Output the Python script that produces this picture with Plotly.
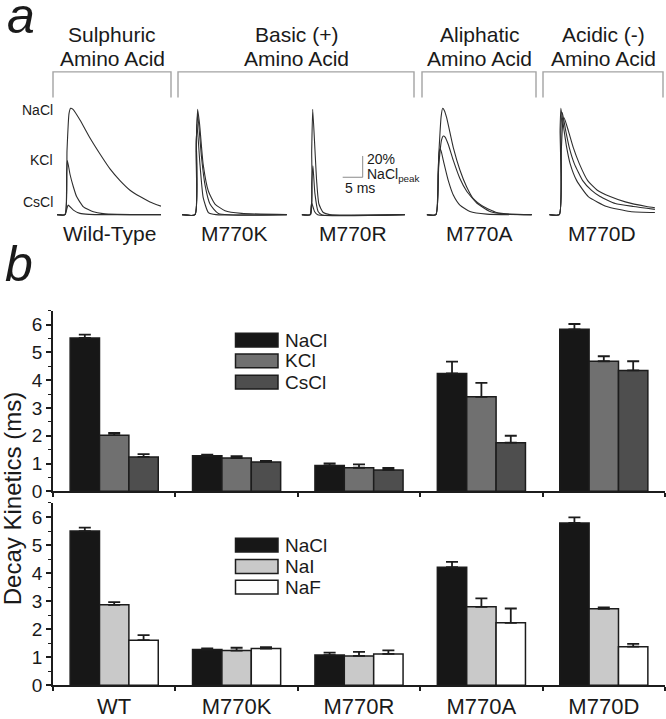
import plotly.graph_objects as go

# ---------------- data ----------------
MUTANTS = ["WT", "M770K", "M770R", "M770A", "M770D"]
TRACE_LABELS = ["Wild-Type", "M770K", "M770R", "M770A", "M770D"]
GROUP_LINE1 = ["Sulphuric", "Basic (+)", "Aliphatic", "Acidic (-)"]
GROUP_LINE2 = ["Amino Acid", "Amino Acid", "Amino Acid", "Amino Acid"]

# panel b, top: cation series (decay kinetics, ms) and upward SEM
NACL = [5.52, 1.28, 0.93, 4.24, 5.83]
NACL_ERR = [0.12, 0.04, 0.08, 0.43, 0.19]
KCL = [2.02, 1.20, 0.85, 3.40, 4.68]
KCL_ERR = [0.08, 0.07, 0.12, 0.50, 0.18]
CSCL = [1.24, 1.06, 0.77, 1.75, 4.35]
CSCL_ERR = [0.10, 0.04, 0.07, 0.25, 0.33]

# panel b, bottom: anion series
NACL2 = [5.50, 1.28, 1.08, 4.21, 5.79]
NACL2_ERR = [0.12, 0.04, 0.09, 0.19, 0.20]
NAI = [2.87, 1.24, 1.05, 2.80, 2.73]
NAI_ERR = [0.10, 0.10, 0.14, 0.30, 0.05]
NAF = [1.61, 1.31, 1.12, 2.23, 1.38]
NAF_ERR = [0.18, 0.05, 0.13, 0.51, 0.10]

# panel a: current traces, time (ms) and amplitude (% of NaCl peak)
WT_T_NACL = [0, 2.0, 2.5, 3.0, 3.4, 4.0, 5.75, 8.25, 10.75, 13.25, 15.75, 18.25, 20.75, 23.25, 26.0]
WT_A_NACL = [0, 0, 60, 95, 100, 99, 89, 72, 57, 43, 32, 23, 17, 12, 8]
WT_T_KCL = [0, 2.0, 2.4, 2.6, 3.25, 4.1, 4.9, 6.6, 9.1, 11.5, 15, 26]
WT_A_KCL = [0, 0, 40, 51, 38, 26, 17, 7.4, 2.8, 1, 0.3, 0]
WT_T_CSCL = [0, 2.0, 2.5, 2.8, 4.1, 5.75, 8, 26]
WT_A_CSCL = [0, 0, 6, 9, 4.3, 1.2, 0.3, 0]

K_T_NACL = [0, 3.25, 3.6, 3.9, 4.4, 5.3, 6.6, 8.25, 10.75, 14.9, 26.2]
K_A_NACL = [0, 0, 70, 99, 85, 47, 22, 10, 3.7, 1.2, 0]
K_T_KCL = [0, 3.25, 3.6, 3.9, 4.9, 5.75, 7, 9.1, 26.2]
K_A_KCL = [0, 0, 70, 95, 53, 28, 10, 1.2, 0]
K_T_CSCL = [0, 3.25, 3.5, 3.75, 4.5, 5.3, 6.6, 8.5, 26.2]
K_A_CSCL = [0, 0, 60, 85, 47, 16, 2, 0, 0]

R_T_NACL = [0, 2.2, 2.5, 2.75, 3.3, 3.75, 4.3, 5.4, 7, 25.8]
R_A_NACL = [0, 0, 60, 99, 62, 31, 10, 2, 0, 0]
R_T_KCL = [0, 2.2, 2.5, 2.8, 3.3, 4.1, 5, 25.8]
R_A_KCL = [0, 0, 30, 46, 20, 3, 0, 0]
R_T_CSCL = [0, 2.1, 2.3, 2.5, 3.2, 4, 25.8]
R_A_CSCL = [0, 0, 7, 11, 3, 0, 0]

A_T_NACL = [0, 2.3, 3.0, 3.6, 4.0, 4.4, 5.0, 6.65, 8.3, 10, 11.65, 14.15, 17.5, 21, 26.25]
A_A_NACL = [0, 0, 55, 92, 100, 98, 91, 63, 42, 26, 15, 7.7, 2, 0.5, 0]
A_T_KCL = [0, 2.3, 3.0, 3.7, 4.15, 4.6, 5.4, 6.65, 8.3, 10, 12.5, 15.8, 20, 26.25]
A_A_KCL = [0, 0, 45, 70, 74, 73, 66, 51, 34, 22, 11, 3, 0.5, 0]
A_T_CSCL = [0, 2.3, 2.8, 3.1, 3.3, 3.6, 4.15, 5.4, 6.65, 8.3, 10.8, 15, 26.25]
A_A_CSCL = [0, 0, 38, 58, 62, 60, 51, 32, 18.5, 9, 3, 0.5, 0]

D_T_NACL = [0, 2.5, 3.0, 3.4, 3.7, 4.75, 6, 7.5, 9.6, 12, 15.2, 19, 24.3, 26.4]
D_A_NACL = [0, 0, 60, 88, 91, 79, 63, 48, 32, 23, 17, 12, 7.7, 6.5]
D_T_KCL = [0, 2.5, 2.9, 3.25, 4.1, 5, 6.25, 8.35, 10.5, 12.7, 16.5, 21, 26.4]
D_A_KCL = [0, 0, 80, 96, 79, 63, 48, 32, 23, 17, 10.5, 7.7, 5]
D_T_CSCL = [0, 2.5, 2.7, 2.9, 3.7, 4.35, 5.2, 6.85, 9.75, 14.35, 20.2, 26.4]
D_A_CSCL = [0, 0, 80, 100, 79, 63, 48, 32, 17, 7.7, 3, 2]

SCALE_MS = 5
SCALE_PCT = 20

# ---------------- layout helpers ----------------
W, H = 666, 719
FONT = "Arial, Liberation Sans, sans-serif"
TXT = "#1a1a1a"


def px(x):
    return x / W


def py(y):
    return 1 - y / H


fig = go.Figure()

# ---------------- panel a ----------------
trace_sets = [
    [(WT_T_NACL, WT_A_NACL), (WT_T_KCL, WT_A_KCL), (WT_T_CSCL, WT_A_CSCL)],
    [(K_T_NACL, K_A_NACL), (K_T_KCL, K_A_KCL), (K_T_CSCL, K_A_CSCL)],
    [(R_T_NACL, R_A_NACL), (R_T_KCL, R_A_KCL), (R_T_CSCL, R_A_CSCL)],
    [(A_T_NACL, A_A_NACL), (A_T_KCL, A_A_KCL), (A_T_CSCL, A_A_CSCL)],
    [(D_T_NACL, D_A_NACL), (D_T_KCL, D_A_KCL), (D_T_CSCL, D_A_CSCL)],
]
# pixel spans of the five trace panels (start, end)
spans = [(57, 161), (182, 287), (301.7, 405), (426.7, 532), (549.3, 655)]
MS_PX = 4.0  # px per ms
base_py, pct_px = 218.0, 1.08

for i, (sets, (x0, x1)) in enumerate(zip(trace_sets, spans)):
    ax = i + 3
    for t, a in sets:
        fig.add_trace(go.Scatter(
            x=t, y=a, mode="lines", xaxis=f"x{ax}", yaxis="y3",
            line=dict(color="#2e2e2e", width=1.1, shape="spline", smoothing=0.5),
            showlegend=False, hoverinfo="skip"))
    fig.layout[f"xaxis{ax}"] = dict(domain=[px(x0), px(x1)], range=[0, (x1 - x0) / MS_PX],
                                     anchor="y3", visible=False, fixedrange=True)
    fig.add_annotation(text=TRACE_LABELS[i], xref=f"x{ax} domain", yref="paper",
                       x=0.5, y=py(237), showarrow=False, xanchor="center", yanchor="middle",
                       font=dict(size=21, color=TXT, family=FONT))

fig.layout["yaxis3"] = dict(domain=[py(230), py(100)],
                            range=[(base_py - 230) / pct_px, (base_py - 100) / pct_px],
                            anchor="x3", visible=False, fixedrange=True)

# scale bar in the M770R panel
t0 = (342.7 - 301.7) / MS_PX
a0 = (base_py - 180) / pct_px
fig.add_trace(go.Scatter(x=[t0, t0 + SCALE_MS, t0 + SCALE_MS], y=[a0, a0, a0 + SCALE_PCT],
                         mode="lines", xaxis="x5", yaxis="y3",
                         line=dict(color="#8a8a8a", width=1), showlegend=False, hoverinfo="skip"))
fig.add_annotation(text=f"{SCALE_PCT}%", xref="x5", yref="y3", x=t0 + SCALE_MS, y=a0 + SCALE_PCT * 0.84,
                   xshift=2, showarrow=False, xanchor="left", yanchor="middle",
                   font=dict(size=14, color=TXT, family=FONT))
fig.add_annotation(text="NaCl<sub>peak</sub>", xref="x5", yref="y3", x=t0 + SCALE_MS, y=a0 + 2.5,
                   xshift=2, showarrow=False, xanchor="left", yanchor="middle",
                   font=dict(size=14, color=TXT, family=FONT))
fig.add_annotation(text=f"{SCALE_MS} ms", xref="x5", yref="y3", x=t0, y=a0 - 10,
                   showarrow=False, xanchor="left", yanchor="middle",
                   font=dict(size=14, color=TXT, family=FONT))

# salt labels next to wild-type traces
for name, amp in zip(["NaCl", "KCl", "CsCl"], [max(WT_A_NACL) - 2, max(WT_A_KCL), max(WT_A_CSCL) + 3]):
    fig.add_annotation(text=name, xref="paper", yref="y3", x=px(55), y=amp,
                       showarrow=False, xanchor="right", yanchor="middle",
                       font=dict(size=14, color=TXT, family=FONT))

# group headers and brackets
group_spans = [(53, 171), (178, 414), (422, 536), (543, 663)]
for l1, l2, (gx0, gx1) in zip(GROUP_LINE1, GROUP_LINE2, group_spans):
    cx = (gx0 + gx1) / 2
    fig.add_annotation(text=l1, xref="paper", yref="paper", x=px(cx), y=py(35),
                       showarrow=False, xanchor="center", yanchor="middle",
                       font=dict(size=21, color=TXT, family=FONT))
    fig.add_annotation(text=l2, xref="paper", yref="paper", x=px(cx), y=py(59.5),
                       showarrow=False, xanchor="center", yanchor="middle",
                       font=dict(size=21, color=TXT, family=FONT))
    fig.add_shape(type="path", xref="paper", yref="paper",
                  path=f"M {px(gx0)},{py(99)} L {px(gx0)},{py(73)} L {px(gx1)},{py(73)} L {px(gx1)},{py(99)}",
                  line=dict(color="#a3a3a3", width=1.4))

# panel letters
fig.add_annotation(text="<i>a</i>", xref="paper", yref="paper", x=px(21), y=py(16),
                   showarrow=False, xanchor="center", yanchor="middle",
                   font=dict(size=50, color=TXT, family=FONT))
fig.add_annotation(text="<i>b</i>", xref="paper", yref="paper", x=px(19), y=py(268),
                   showarrow=False, xanchor="center", yanchor="middle",
                   font=dict(size=50, color=TXT, family=FONT))

# ---------------- panel b ----------------
EDGE = "#1c1c1c"


def add_bars(vals, errs, color, xa, ya):
    fig.add_trace(go.Bar(
        x=MUTANTS, y=vals, xaxis=xa, yaxis=ya,
        marker=dict(color=color, line=dict(color=EDGE, width=1.5)),
        error_y=dict(type="data", array=errs, arrayminus=[0] * len(errs), symmetric=False,
                     color=EDGE, thickness=1.8, width=6),
        showlegend=False, hoverinfo="skip"))


top_series = [("NaCl", NACL, NACL_ERR, "#171717"), ("KCl", KCL, KCL_ERR, "#707070"),
              ("CsCl", CSCL, CSCL_ERR, "#4e4e4e")]
bot_series = [("NaCl", NACL2, NACL2_ERR, "#171717"), ("NaI", NAI, NAI_ERR, "#c9c9c9"),
              ("NaF", NAF, NAF_ERR, "#ffffff")]
for _, v, e, c in top_series:
    add_bars(v, e, c, "x", "y")
for _, v, e, c in bot_series:
    add_bars(v, e, c, "x2", "y2")

# legends drawn as boxes + text
for series, rows in [(top_series, [345.5, 366.5, 388]), (bot_series, [553.7, 575.3, 596.3])]:
    for (name, _, _, c), ry in zip(series, rows):
        fig.add_shape(type="rect", xref="paper", yref="paper",
                      x0=px(235.5), x1=px(278), y0=py(ry - 7), y1=py(ry + 7),
                      fillcolor=c, line=dict(color=EDGE, width=1.5))
        fig.add_annotation(text=name, xref="paper", yref="paper", x=px(283), y=py(ry),
                           showarrow=False, xanchor="left", yanchor="middle",
                           font=dict(size=19, color=TXT, family=FONT))

xdom = [px(53), px(665)]
xcommon = dict(domain=xdom, type="category", categoryorder="array", categoryarray=MUTANTS,
               tickson="boundaries", ticks="outside", ticklen=4, tickwidth=1.5, tickcolor=EDGE,
               showline=True, linecolor=EDGE, linewidth=1.8, showgrid=False, zeroline=False,
               fixedrange=True)
ycommon = dict(range=[0, 6.5], tickvals=[0, 1, 2, 3, 4, 5, 6], ticks="outside", ticklen=5,
               tickwidth=1.5, tickcolor=EDGE, showline=True, linecolor=EDGE, linewidth=1.8,
               showgrid=False, zeroline=False, fixedrange=True,
               tickfont=dict(size=19, color=TXT, family=FONT),
               minor=dict(dtick=0.5, ticks="outside", ticklen=3, tickcolor=EDGE, tickwidth=1.2))

fig.update_layout(
    xaxis=dict(**xcommon, anchor="y", showticklabels=False),
    yaxis=dict(**ycommon, domain=[py(499), py(315.5)], anchor="x"),
    xaxis2=dict(**xcommon, anchor="y2", tickfont=dict(size=22, color=TXT, family=FONT)),
    yaxis2=dict(**ycommon, domain=[py(696), py(510.8)], anchor="x2"),
)

fig.add_annotation(text="Decay Kinetics (ms)", xref="paper", yref="paper", x=px(12), y=py(507),
                   textangle=-90, showarrow=False, xanchor="center", yanchor="middle",
                   font=dict(size=24, color=TXT, family=FONT))

fig.update_layout(
    width=W, height=H, margin=dict(l=0, r=0, t=0, b=0),
    paper_bgcolor="white", plot_bgcolor="white",
    barmode="group", bargap=0.28, bargroupgap=0,
    font=dict(family=FONT, color=TXT),
    showlegend=False,
)

fig.write_html("out.html", config={"displayModeBar": False},
               post_script="document.body.style.margin='0';document.body.style.overflow='hidden';")
